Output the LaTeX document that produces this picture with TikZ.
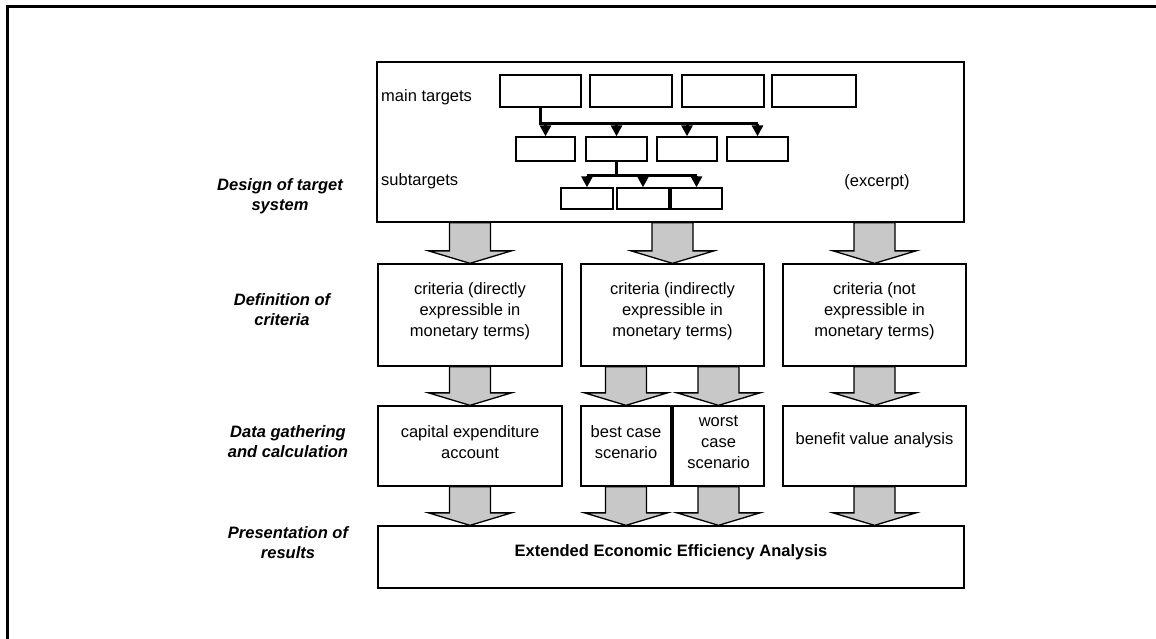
\documentclass[tikz,border=0pt]{standalone}
\usepackage{fontspec}
\setmainfont{Liberation Sans}
\usetikzlibrary{fit,calc,arrows.meta}
\definecolor{arrowgray}{RGB}{200,200,200}
\tikzset{
  box/.style={draw=black, line width=1.3pt, inner sep=0pt},
  txt/.style={inner sep=0pt, align=center, font=\fontsize{16.5}{21}\selectfont},
  lbl/.style={inner sep=0pt, align=center, font=\fontsize{16.5}{20}\selectfont\bfseries\itshape},
  bus/.style={line width=3pt},
  busarrow/.style={line width=3pt, -{Triangle[width=11pt,length=11pt]}},
  garr/.style={draw=black, line width=1.3pt, fill=arrowgray, line join=miter},
  frame/.style={line width=3pt},
}
\newcommand\garrow[3]{%
  \path[garr] let \p0=(#1.center), \p1=(#2.south), \p2=(#3.north) in
    ({\x0-20.5pt},\y1) -- ({\x0-20.5pt},{\y2+12.5pt}) -- ({\x0-41.5pt},{\y2+12.5pt})
    -- (\x0,\y2) -- ({\x0+41.5pt},{\y2+12.5pt}) -- ({\x0+20.5pt},{\y2+12.5pt})
    -- ({\x0+20.5pt},\y1) -- cycle;}
\begin{document}
\begin{tikzpicture}[x=1pt,y=-1pt]
\useasboundingbox (0,0) rectangle (1156,639);
\draw[frame] (1156,6.5) -- (7.5,6.5) -- (7.5,639);

% target system
\node[box, fit={(377,62) (964,222)}] (top) {};
\node[txt, anchor=west] (mtl) at (381,97) {main targets};
\node[txt, anchor=west] (stl) at (381,181) {subtargets};
\node[txt] (exc) at (877,182) {(excerpt)};

\node[box, fit={(500,75) (581,107)}] (m1) {};
\node[box, fit={(590,75) (672,107)}] (m2) {};
\node[box, fit={(682,75) (764,107)}] (m3) {};
\node[box, fit={(772,75) (856,107)}] (m4) {};

\node[box, fit={(516,137) (575,161)}] (s1) {};
\node[box, fit={(586,137) (647,161)}] (s2) {};
\node[box, fit={(657,137) (717,161)}] (s3) {};
\node[box, fit={(727,137) (788,161)}] (s4) {};

\node[box, fit={(561,188) (613,209)}] (t1) {};
\node[box, fit={(617,188) (669,209)}] (t2) {};
\node[box, fit={(671,188) (722,209)}] (t3) {};

\coordinate (bj) at ($(m1.south)+(0,16)$);
\draw[bus] (m1.south) -- (bj) -- (bj -| s4.north);
\foreach \s in {s1,s2,s3,s4} \draw[busarrow] (bj -| \s.north) -- (\s.north);

\coordinate (bk) at ($(s2.south)+(0,14)$);
\draw[bus] (s2.south) -- (bk);
\draw[bus] (bk -| t1.north) -- (bk -| t3.north);
\foreach \s in {t1,t2,t3} \draw[busarrow] (bk -| \s.north) -- (\s.north);

% criteria
\node[box, fit={(378,264) (562,366)}] (c1) {};
\node[box, fit={(581,264) (764,366)}] (c2) {};
\node[box, fit={(783,264) (966,366)}] (c3) {};
\node[txt] at ([yshift=4pt]c1.center) {criteria (directly\\expressible in\\monetary terms)};
\node[txt] at ([yshift=4pt]c2.center) {criteria (indirectly\\expressible in\\monetary terms)};
\node[txt] at ([yshift=4pt]c3.center) {criteria (not\\expressible in\\monetary terms)};

% data gathering
\node[box, fit={(378,406) (562,486)}] (d1) {};
\node[box, fit={(581,406) (671,486)}] (d2) {};
\node[box, fit={(673,406) (764,486)}] (d3) {};
\node[box, fit={(783,406) (966,486)}] (d4) {};
\node[txt] at ([yshift=4pt]d1.center) {capital expenditure\\account};
\node[txt] at ([yshift=4pt]d2.center) {best case\\scenario};
\node[txt] at ([yshift=4pt]d3.center) {worst\\case\\scenario};
\node[txt] at ([yshift=6pt]d4.center) {benefit value analysis};

% results
\node[box, fit={(378,526) (964,588)}] (r) {};
\node[txt, font=\fontsize{16.5}{21}\selectfont\bfseries] at ([yshift=5pt]r.center) {Extended Economic Efficiency Analysis};

% left labels
\node[lbl] at (280,196) {Design of target\\system};
\node[lbl] at (282,310) {Definition of\\criteria};
\node[lbl] at (288,442) {Data gathering\\and calculation};
\node[lbl] at (288,543) {Presentation of\\results};

% block arrows
\garrow{c1}{top}{c1}
\garrow{c2}{top}{c2}
\garrow{c3}{top}{c3}
\garrow{d1}{c1}{d1}
\garrow{d2}{c2}{d2}
\garrow{d3}{c2}{d3}
\garrow{d4}{c3}{d4}
\garrow{d1}{d1}{r}
\garrow{d2}{d2}{r}
\garrow{d3}{d3}{r}
\garrow{d4}{d4}{r}
\end{tikzpicture}
\end{document}
